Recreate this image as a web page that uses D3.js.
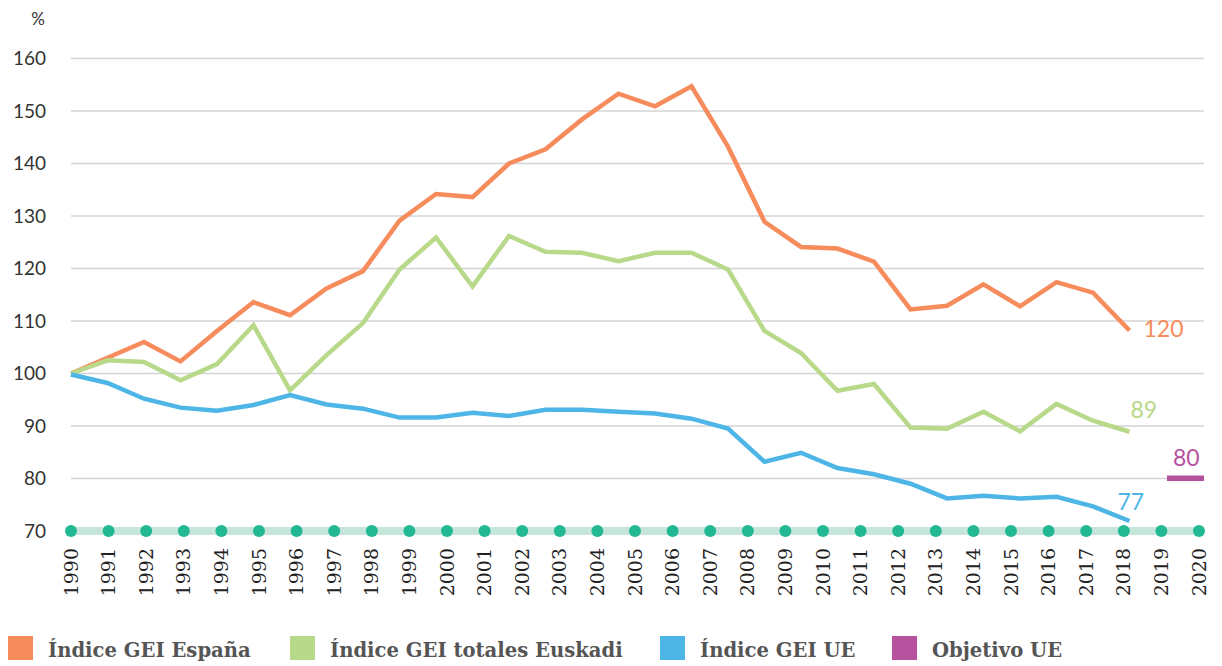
<!DOCTYPE html>
<html>
<head>
<meta charset="utf-8">
<script src="https://cdn.jsdelivr.net/npm/d3@7"></script>
<style>
  body { margin: 0; background: #fff; }
  .ylab { font-family: Lato, sans-serif; font-size: 19px; fill: #333; }
  .xlab { font-family: "DejaVu Serif", serif; font-size: 19px; fill: #222; }
  .legend text { font-family: "DejaVu Serif", serif; font-weight: bold; font-size: 19.6px; fill: #555; }
  .endlab { font-family: Lato, sans-serif; font-size: 23px; }
</style>
</head>
<body>
<div id="chart"></div>
<script>
var axisYears = d3.range(1990, 2021);
var lineYears = d3.range(1990, 2020);
var yTicks = [70, 80, 90, 100, 110, 120, 130, 140, 150, 160];

var espana = [100, 103.0, 106.0, 102.3, 108.1, 113.6, 111.1, 116.2, 119.5, 129.1,
    134.2, 133.6, 140.0, 142.7, 148.4, 153.3, 150.9, 154.7, 143.2, 128.9,
    124.1, 123.8, 121.3, 112.2, 112.9, 117.0, 112.8, 117.4, 115.4, 108.2];
var euskadi = [100, 102.5, 102.2, 98.7, 101.8, 109.2, 96.8, 103.5, 109.6, 119.8,
    125.9, 116.6, 126.2, 123.2, 123.0, 121.4, 123.0, 123.0, 119.8, 108.1,
    103.9, 96.7, 98.0, 89.7, 89.5, 92.7, 89.0, 94.2, 91.0, 88.9];
var ue = [99.8, 98.2, 95.2, 93.5, 92.9, 94.0, 95.9, 94.1, 93.3, 91.6,
    91.6, 92.5, 91.9, 93.1, 93.1, 92.7, 92.4, 91.4, 89.5, 83.2,
    84.9, 82.0, 80.8, 79.0, 76.2, 76.7, 76.2, 76.5, 74.7, 71.9];
var objetivoUE = 80;

var seriesNames = ["Índice GEI España", "Índice GEI totales Euskadi", "Índice GEI UE", "Objetivo UE"];
var endLabels = ["120", "89", "77", "80"];
var colors = ["#F68B5C", "#B8D98A", "#4DB6E7", "#B5519D"];

var width = 1222, height = 666;

var x = d3.scalePoint().domain(axisYears).range([71, 1199]);
var xLine = d3.scalePoint().domain(axisYears).range([71, 1166]);
var y = d3.scaleLinear().domain([70, 160]).range([531, 58.5]);

var svg = d3.select("#chart").append("svg")
    .attr("width", width)
    .attr("height", height);

// //////////// grid + y labels ////////////
svg.selectAll("line.grid")
    .data(yTicks.filter(function(d) { return d > 70; }))
    .enter().append("line")
    .attr("class", "grid")
    .attr("x1", 71).attr("x2", 1204)
    .attr("y1", function(d) { return y(d); })
    .attr("y2", function(d) { return y(d); })
    .style("stroke", "#d4d4d4")
    .style("stroke-width", 1.5);

svg.selectAll("text.ylab")
    .data(yTicks)
    .enter().append("text")
    .attr("class", "ylab")
    .attr("x", 46)
    .attr("y", function(d) { return y(d); })
    .attr("dy", "0.35em")
    .attr("text-anchor", "end")
    .text(function(d) { return d; });

svg.append("text")
    .attr("class", "ylab")
    .attr("x", 38).attr("y", 25)
    .attr("text-anchor", "middle")
    .style("font-size", "17px")
    .text("%");

// //////////// base band with dots ////////////
svg.append("line")
    .attr("x1", 71).attr("x2", 1204)
    .attr("y1", y(70)).attr("y2", y(70))
    .style("stroke", "#C6E6DB")
    .style("stroke-width", 8);

svg.selectAll("circle.dot")
    .data(axisYears)
    .enter().append("circle")
    .attr("class", "dot")
    .attr("cx", function(d) { return x(d); })
    .attr("cy", y(70))
    .attr("r", 6)
    .style("fill", "#22B893");

svg.selectAll("text.xlab")
    .data(axisYears)
    .enter().append("text")
    .attr("class", "xlab")
    .attr("text-anchor", "end")
    .attr("transform", function(d) {
        return "translate(" + x(d) + ",548) rotate(-90)";
    })
    .attr("dy", "0.35em")
    .text(function(d) { return d; });

// //////////// lines ////////////
var line = d3.line()
    .x(function(d, i) { return xLine(lineYears[i]); })
    .y(function(d) { return y(d); });

[espana, euskadi, ue].forEach(function(s, k) {
    svg.append("path")
        .datum(s)
        .attr("d", line)
        .style("fill", "none")
        .style("stroke", colors[k])
        .style("stroke-width", 4.5)
        .style("stroke-linejoin", "miter");
});

// objective bar
svg.append("rect")
    .attr("x", xLine(2020) + 1)
    .attr("y", y(objetivoUE) - 3)
    .attr("width", 1204 - xLine(2020) - 1)
    .attr("height", 5.5)
    .style("fill", colors[3]);

// //////////// end labels ////////////
var lastIdx = lineYears.length - 1;
var endPos = [
    [xLine(lineYears[lastIdx]) + 14, y(espana[lastIdx]) + 7],
    [xLine(lineYears[lastIdx]) + 1, y(euskadi[lastIdx]) - 14],
    [xLine(2020) + 7, y(objetivoUE) - 13],
    [xLine(lineYears[lastIdx]) - 12, y(ue[lastIdx]) - 11]
];
var endColors = [colors[0], colors[1], colors[3], colors[2]];
var endTexts = [endLabels[0], endLabels[1], endLabels[3], endLabels[2]];
endPos.forEach(function(p, i) {
    svg.append("text")
        .attr("class", "endlab")
        .attr("x", p[0]).attr("y", p[1])
        .style("fill", endColors[i])
        .text(endTexts[i]);
});

// //////////// legend ////////////
var legendX = [8, 290, 660, 892];
var legend = svg.selectAll("g.legend")
    .data(seriesNames)
    .enter().append("g")
    .attr("class", "legend")
    .attr("transform", function(d, i) { return "translate(" + legendX[i] + ",636)"; });

legend.append("rect")
    .attr("width", 25).attr("height", 24)
    .style("fill", function(d, i) { return colors[i]; });

legend.append("text")
    .attr("x", 40).attr("y", 21)
    .text(function(d) { return d; });
</script>
</body>
</html>
